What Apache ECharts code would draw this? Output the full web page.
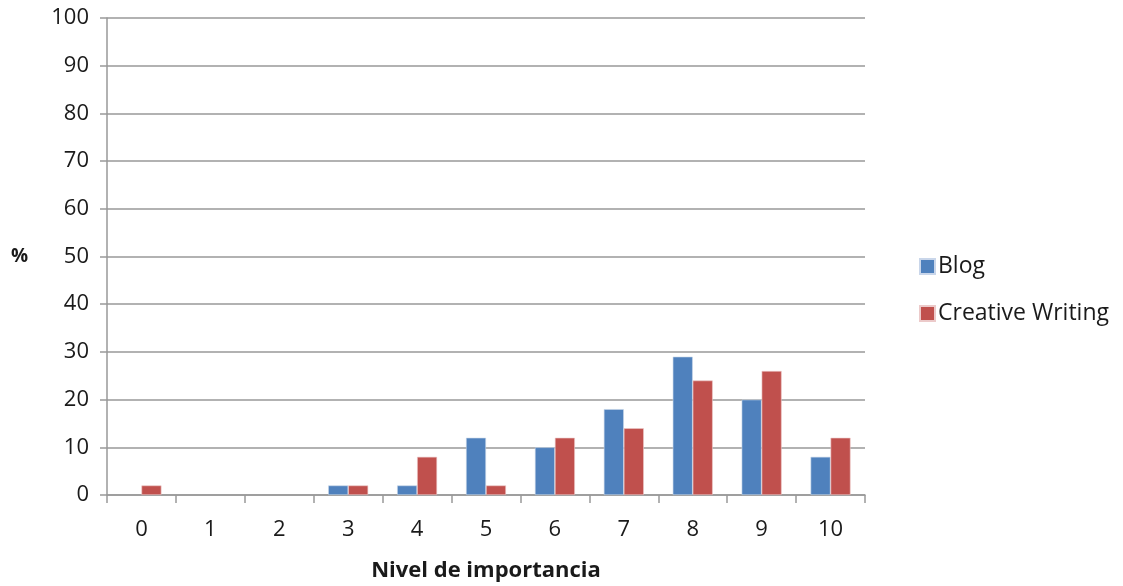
<!DOCTYPE html>
<html>
<head>
<meta charset="utf-8">
<script src="https://cdn.jsdelivr.net/npm/echarts@6/dist/echarts.min.js"></script>
<style>html,body{margin:0;padding:0;background:#fff;overflow:hidden;}#c{width:1123px;height:586px;}</style>
</head>
<body>
<div id="c"></div>
<script>
var categories = ['0','1','2','3','4','5','6','7','8','9','10'];
var blog = [0,0,0,2,2,12,10,18,29,20,8];
var creative = [2,0,0,2,8,2,12,14,24,26,12];
var seriesNames = ['Blog','Creative Writing'];
var xTitle = 'Nivel de importancia';
var yTitle = '%';

function hideZero(arr) { return arr.map(function (v) { return v === 0 ? null : v; }); }

var chart = echarts.init(document.getElementById('c'), null, {width: 1123, height: 586});
var font = 'Open Sans, Liberation Sans, sans-serif';
chart.setOption({
  animation: false,
  grid: {left: 107, width: 758, top: 18, height: 477, containLabel: false, outerBoundsMode: 'none'},
  legend: {
    orient: 'vertical', left: 914, top: 250, itemWidth: 15, itemHeight: 15, itemGap: 24,
    icon: 'rect',
    textStyle: {fontFamily: font, fontSize: 23, color: '#1a1a1a', padding: [0,0,0,-2]},
    data: seriesNames
  },
  xAxis: {
    type: 'category', data: categories,
    name: xTitle, nameLocation: 'middle', nameGap: 65,
    nameTextStyle: {fontFamily: font, fontSize: 22, fontWeight: 'bold', color: '#1a1a1a'},
    axisLine: {lineStyle: {color: '#999', width: 1.5}},
    axisTick: {show: true, length: 8, lineStyle: {color: '#999', width: 1.5}},
    axisLabel: {fontFamily: font, fontSize: 22, color: '#1a1a1a', margin: 24}
  },
  yAxis: {
    type: 'value', min: 0, max: 100, interval: 10,
    name: yTitle, nameLocation: 'middle', nameGap: 79, nameRotate: 0,
    nameTextStyle: {fontFamily: font, fontSize: 19, fontWeight: 'bold', color: '#1a1a1a'},
    axisLine: {show: true, lineStyle: {color: '#999', width: 1.5}},
    axisTick: {show: true, length: 7, lineStyle: {color: '#999', width: 1.5}},
    axisLabel: {fontFamily: font, fontSize: 22, color: '#1a1a1a', margin: 18},
    splitLine: {lineStyle: {color: '#999', width: 1.5}}
  },
  series: [
    {name: seriesNames[0], type: 'bar', data: hideZero(blog), barWidth: '29%', barGap: '0%',
     itemStyle: {color: '#4F81BD', borderColor: '#c9d6ea', borderWidth: 0.6}},
    {name: seriesNames[1], type: 'bar', data: hideZero(creative), barWidth: '29%', barGap: '0%',
     itemStyle: {color: '#C0504D', borderColor: '#eccaca', borderWidth: 0.6}}
  ]
});
</script>
</body>
</html>
